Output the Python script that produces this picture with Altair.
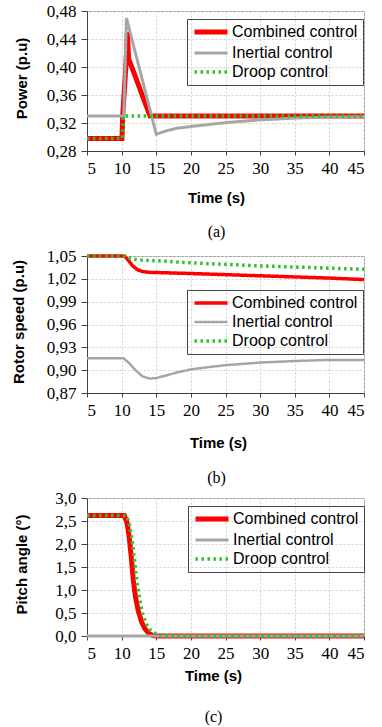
import altair as alt
import pandas as pd

series_names = ["Combined control", "Inertial control", "Droop control"]
series_colors = ["#ff0000", "#a6a6a6", "#2ec02e"]

x_ticks = [5, 10, 15, 20, 25, 30, 35, 40, 45]

# (a) Power (p.u)
t_pow_comb = [5, 10.05, 10.15, 10.55, 10.85, 11.0, 12.0, 13.0, 14.1, 45]
p_comb = [0.298, 0.298, 0.330, 0.390, 0.450, 0.412, 0.386, 0.359, 0.330, 0.330]
t_pow_iner = [5, 10.3, 10.7, 15.0, 16.5, 18, 20, 25, 30, 35, 40, 45]
p_iner = [0.330, 0.330, 0.470, 0.304, 0.309, 0.3125, 0.315, 0.3205, 0.3245, 0.327, 0.3285, 0.329]
t_pow_droop = [5, 10.1, 10.25, 45]
p_droop = [0.298, 0.298, 0.330, 0.330]
pow_ticks = [0.28, 0.32, 0.36, 0.40, 0.44, 0.48]

# (b) Rotor speed (p.u)
t_rs_comb = [5, 10.4, 11, 11.6, 12.3, 13, 14, 15, 20, 25, 30, 35, 40, 45]
rs_comb = [1.05, 1.05, 1.044, 1.037, 1.032, 1.0295, 1.0285, 1.0283, 1.027, 1.0255, 1.024, 1.0225, 1.021, 1.019]
t_rs_iner = [5, 10.3, 11, 12, 13, 14, 15, 16, 18, 20, 22.5, 25, 30, 35, 40, 45]
rs_iner = [0.9155, 0.9155, 0.910, 0.900, 0.892, 0.889, 0.8895, 0.892, 0.897, 0.901, 0.904, 0.9065, 0.910, 0.912, 0.9135, 0.9135]
t_rs_droop = [5, 10.6, 11.2, 12, 13, 15, 20, 25, 30, 35, 40, 45]
rs_droop = [1.05, 1.05, 1.047, 1.0455, 1.0445, 1.0438, 1.041, 1.039, 1.037, 1.0355, 1.034, 1.0325]
rs_ticks = [0.87, 0.90, 0.93, 0.96, 0.99, 1.02, 1.05]

# (c) Pitch angle (°)
t_pa_comb = [5, 10.4, 10.8, 11.1, 11.4, 11.7, 12.0, 12.4, 12.9, 13.4, 13.9, 14.5, 15, 45]
pa_comb = [2.62, 2.62, 2.45, 2.15, 1.7, 1.2, 0.85, 0.55, 0.3, 0.15, 0.06, 0.01, 0.0, 0.0]
t_pa_iner = [5, 45]
pa_iner = [0.0, 0.0]
t_pa_droop = [5, 10.7, 11.1, 11.5, 11.9, 12.2, 12.6, 13.0, 13.5, 14.0, 14.5, 15.0, 16.0, 17.0, 45]
pa_droop = [2.62, 2.62, 2.45, 2.1, 1.6, 1.2, 0.8, 0.5, 0.28, 0.15, 0.08, 0.04, 0.01, 0.0, 0.0]
pa_ticks = [0.0, 0.5, 1.0, 1.5, 2.0, 2.5, 3.0]

SERIF = "Liberation Serif"
SANS = "Liberation Sans"


def make_df(ts, vs):
    rows = []
    for name, t, v in zip(series_names, ts, vs):
        for a, b in zip(t, v):
            rows.append({"t": a, "v": b, "series": name})
    return pd.DataFrame(rows)


def panel(df, ydom, yticks, ydec, ytitle, height, widths, legx, legy,
          ytitle_x, xtitle_x, xtitle_y, caption, cap_offset, cap_dx):
    leg = alt.Legend(
        orient="none", legendX=legx, legendY=legy, title=None,
        symbolType="M-1,0H5", symbolSize=121, labelOffset=24,
        strokeColor="#444444", padding=5, rowPadding=3,
        labelFont=SANS, labelFontSize=16, labelColor="black",
        labelLimit=300,
    )
    enc = dict(
        x=alt.X("t:Q", scale=alt.Scale(domain=[5, 45], nice=False, zero=False),
                axis=alt.Axis(values=x_ticks, title="Time (s)", tickSize=4,
                              labelPadding=5, labelFont=SERIF, labelFontSize=17,
                              labelColor="black",
                              titleFont=SANS, titleFontSize=15, titleFontWeight="bold",
                              titleX=xtitle_x, titleY=xtitle_y,
                              titleBaseline="middle", titleAnchor="middle")),
        y=alt.Y("v:Q", scale=alt.Scale(domain=ydom, nice=False, zero=False),
                axis=alt.Axis(values=yticks, title=ytitle, tickSize=6, labelPadding=5,
                              labelFont=SERIF, labelFontSize=17, labelColor="black",
                              labelExpr=f"replace(format(datum.value, '.{ydec}f'), '.', ',')",
                              titleFont=SANS, titleFontSize=15, titleFontWeight="bold",
                              titleX=ytitle_x, titleY=height / 2 - 3,
                              titleBaseline="middle", titleAngle=270)),
        color=alt.Color("series:N", scale=alt.Scale(domain=series_names, range=series_colors), legend=leg),
        strokeDash=alt.StrokeDash("series:N", scale=alt.Scale(domain=series_names,
                                  range=[[1, 0], [1, 0], [2.5, 3.5]]), legend=leg),
        strokeWidth=alt.StrokeWidth("series:N", scale=alt.Scale(type="ordinal", domain=series_names,
                                    range=widths), legend=leg),
    )
    layers = [
        alt.Chart(df).transform_filter(alt.datum.series == s).mark_line(strokeCap="butt").encode(**enc)
        for s in series_names
    ]
    return alt.layer(*layers).properties(
        width=277, height=height,
        title=alt.TitleParams(caption, orient="bottom", anchor="middle", font=SERIF,
                              fontSize=16, fontWeight="normal", color="black",
                              offset=cap_offset, dx=cap_dx),
    )


df_a = make_df([t_pow_comb, t_pow_iner, t_pow_droop], [p_comb, p_iner, p_droop])
df_b = make_df([t_rs_comb, t_rs_iner, t_rs_droop], [rs_comb, rs_iner, rs_droop])
df_c = make_df([t_pa_comb, t_pa_iner, t_pa_droop], [pa_comb, pa_iner, pa_droop])

pa = panel(df_a, [0.28, 0.48], pow_ticks, 2, "Power (p.u)", 140, [5, 3, 3.5], 100, 8,
           -66, 129, 46, "(a)", 19, -9)
pb = panel(df_b, [0.87, 1.05], rs_ticks, 2, "Rotor speed (p.u)", 137, [3.5, 2.5, 3.5], 100, 34,
           -69, 131, 49, "(b)", 20, -9)
pc = panel(df_c, [0.0, 3.0], pa_ticks, 1, "Pitch angle (°)", 138, [5, 3, 3.5], 101, 8,
           -66, 126, 39, "(c)", 26, -12)

chart = alt.vconcat(pa, pb, pc, spacing=105, bounds="flush").resolve_scale(
    color="independent", strokeDash="independent", strokeWidth="independent"
).resolve_legend(
    color="independent", strokeDash="independent", strokeWidth="independent"
).properties(
    padding={"left": 10, "top": 1, "right": 0, "bottom": 0},
    background="white",
).configure_view(
    stroke="#999999", strokeWidth=1
).configure_axis(
    domainColor="#404040", tickColor="#404040",
    gridColor="#d0d0d0", gridDash=[2, 2], gridWidth=1,
    labelFont=SERIF, labelFontSize=17, labelColor="black",
    titleFont=SANS, titleFontSize=15, titleFontWeight="bold", titleColor="black",
)

chart.save("out.html", embed_options={"renderer": "svg", "actions": False})
